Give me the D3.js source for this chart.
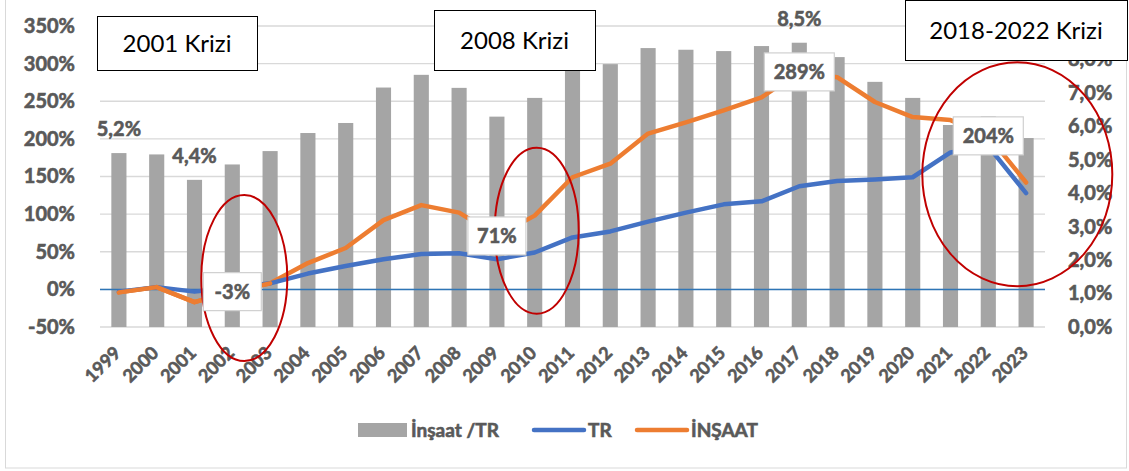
<!DOCTYPE html>
<html>
<head>
<meta charset="utf-8">
<script src="https://cdn.jsdelivr.net/npm/d3@7"></script>
<style>
  body { margin: 0; background: #fff; }
  svg { display: block; font-family: Lato, "Open Sans", sans-serif; }
  .heavy { font-weight: 700; fill: #595959; stroke: #595959; stroke-width: 0.6px; }
</style>
</head>
<body>
<svg id="chart" width="1129" height="471"></svg>
<script>
"use strict";

// Years on the x axis
const years = ["1999","2000","2001","2002","2003","2004","2005","2006","2007","2008","2009","2010",
  "2011","2012","2013","2014","2015","2016","2017","2018","2019","2020","2021","2022","2023"];

// İnşaat /TR share (right axis, %)
const share = [5.2, 5.16, 4.4, 4.86, 5.26, 5.8, 6.1, 7.16, 7.54, 7.15, 6.29, 6.85,
  7.66, 7.86, 8.34, 8.29, 8.25, 8.4, 8.5, 8.07, 7.33, 6.85, 6.04, 6.3, 5.65];

// Cumulative growth (left axis, %)
const tr = [-3, 3, -3, 2, 8, 21, 31, 40, 47, 48, 40, 49,
  69, 77, 90, 102, 113, 117, 137, 144, 146, 149, 182, 190, 128];
const insaat = [-4, 3, -17, -3, 8, 35, 55, 92, 112, 102, 71, 98,
  149, 167, 207, 222, 238, 255, 289, 282, 249, 229, 225, 204, 142];

const leftTicks = [-50, 0, 50, 100, 150, 200, 250, 300, 350];
const rightTicks = [0, 1, 2, 3, 4, 5, 6, 7, 8, 9];

// labelled points
const shareLabels = ["1999", "2001", "2017"];
const insaatLabels = ["2002", "2009", "2017", "2022"];

const crises = [
  {text: "2001 Krizi", x: 97, y: 16, w: 160, h: 54},
  {text: "2008 Krizi", x: 434, y: 10, w: 161, h: 60},
  {text: "2018-2022 Krizi", x: 905, y: 0, w: 222, h: 60}
];

const svg = d3.select("#chart");

// outer frame
svg.append("rect").attr("x", 5.5).attr("y", -1).attr("width", 1121).attr("height", 469)
  .attr("fill", "#fff").attr("stroke", "#d9d9d9");

const pLeft = 100, pRight = 1045, pTop = 26, pBottom = 327;

const x = d3.scaleBand().domain(years).range([pLeft, pRight]).paddingInner(0.6).paddingOuter(0.3);
const xc = d => x(d) + x.bandwidth() / 2;
const yL = d3.scaleLinear().domain([-50, 350]).range([pBottom, pTop]);
const yR = d3.scaleLinear().domain([0, 9]).range([pBottom, pTop]);

// gridlines
svg.append("g").selectAll("line").data(leftTicks).join("line")
  .attr("x1", pLeft).attr("x2", pRight)
  .attr("y1", d => yL(d)).attr("y2", d => yL(d))
  .attr("stroke", "#d9d9d9").attr("stroke-width", 1.3);

// left axis
const axL = svg.append("g").attr("transform", `translate(${pLeft - 22},0)`)
  .call(d3.axisLeft(yL).tickValues(leftTicks).tickSize(0).tickFormat(d => d + "%"));
axL.select(".domain").remove();
axL.selectAll("text").attr("class", "heavy").attr("font-size", 20)
  .attr("font-family", "Lato, sans-serif");

// right axis
const axR = svg.append("g").attr("transform", `translate(${pRight + 20},0)`)
  .call(d3.axisRight(yR).tickValues(rightTicks).tickSize(0)
    .tickFormat(d => d3.format(".1f")(d).replace(".", ",") + "%"));
axR.select(".domain").remove();
axR.selectAll("text").attr("class", "heavy").attr("font-size", 20)
  .attr("font-family", "Lato, sans-serif");

// bars
svg.append("g").selectAll("rect").data(years).join("rect")
  .attr("x", d => x(d)).attr("width", x.bandwidth())
  .attr("y", (d, i) => yR(share[i])).attr("height", (d, i) => yR(0) - yR(share[i]))
  .attr("fill", "#a5a5a5");

// zero line
svg.append("line").attr("x1", pLeft).attr("x2", pRight)
  .attr("y1", yL(0)).attr("y2", yL(0)).attr("stroke", "#2e75b6").attr("stroke-width", 1.5);

// x labels
svg.append("g").selectAll("text").data(years).join("text")
  .attr("transform", d => `translate(${xc(d) + 3},${pBottom + 27}) rotate(-45)`)
  .attr("text-anchor", "end").attr("class", "heavy").attr("font-size", 18)
  .text(d => d);

// lines
const line = vals => d3.line().x((d, i) => xc(years[i])).y(d => yL(d))(vals);
svg.append("path").attr("d", line(insaat)).attr("fill", "none")
  .attr("stroke", "#ed7d31").attr("stroke-width", 4.5).attr("stroke-linejoin", "round").attr("stroke-linecap", "round");
svg.append("path").attr("d", line(tr)).attr("fill", "none")
  .attr("stroke", "#4472c4").attr("stroke-width", 4.5).attr("stroke-linejoin", "round").attr("stroke-linecap", "round");
// orange again on top where it lies over blue early on
svg.append("path").attr("d", line(insaat.slice(0, 5))).attr("fill", "none")
  .attr("stroke", "#ed7d31").attr("stroke-width", 4.5).attr("stroke-linejoin", "round").attr("stroke-linecap", "round");

// bar value labels
svg.append("g").selectAll("text").data(shareLabels).join("text")
  .attr("x", d => xc(d)).attr("y", d => yR(share[years.indexOf(d)]) - 17)
  .attr("text-anchor", "middle").attr("class", "heavy").attr("font-size", 20)
  .text(d => d3.format(".1f")(share[years.indexOf(d)]).replace(".", ",") + "%");

// crisis ellipses
const ellipses = [
  {cx: xc("2002") + 12, cy: yL(15), rx: 43, ry: 83},
  {cx: xc("2010") + 2, cy: yL(78), rx: 42, ry: 83},
  {cx: xc("2022") + 29, cy: yL(153), rx: 95, ry: 112}
];
svg.append("g").selectAll("ellipse").data(ellipses).join("ellipse")
  .attr("cx", d => d.cx).attr("cy", d => d.cy).attr("rx", d => d.rx).attr("ry", d => d.ry)
  .attr("fill", "none").attr("stroke", "#c00000").attr("stroke-width", 2);

// İNŞAAT data labels
const lab = svg.append("g").selectAll("g").data(insaatLabels).join("g")
  .attr("transform", d => `translate(${xc(d)},${yL(insaat[years.indexOf(d)])})`);
lab.append("rect").attr("y", -19)
  .attr("x", d => insaat[years.indexOf(d)] >= 100 ? -35 : -29)
  .attr("width", d => insaat[years.indexOf(d)] >= 100 ? 70 : 58).attr("height", 38)
  .attr("fill", "#fff").attr("stroke", "#d0d0d0").attr("stroke-width", 1.2);
lab.append("text").attr("text-anchor", "middle").attr("dy", "0.36em")
  .attr("class", "heavy").attr("font-size", 20)
  .text(d => insaat[years.indexOf(d)] + "%");

// crisis title boxes
const cb = svg.append("g").selectAll("g").data(crises).join("g");
cb.append("rect").attr("x", d => d.x + 0.5).attr("y", d => d.y + 0.5)
  .attr("width", d => d.w).attr("height", d => d.h)
  .attr("fill", "#fff").attr("stroke", "#000").attr("stroke-width", 1);
cb.append("text").attr("x", d => d.x + d.w / 2).attr("y", d => d.y + d.h / 2)
  .attr("dy", "0.36em").attr("text-anchor", "middle").attr("font-size", 24).attr("fill", "#000")
  .text(d => d.text);

// legend
const legend = [
  {name: "İnşaat /TR", type: "bar", color: "#a5a5a5", x: 358},
  {name: "TR", type: "line", color: "#4472c4", x: 532},
  {name: "İNŞAAT", type: "line", color: "#ed7d31", x: 635}
];
const lg = svg.append("g").selectAll("g").data(legend).join("g")
  .attr("transform", d => `translate(${d.x},430)`);
lg.filter(d => d.type === "bar").append("rect")
  .attr("x", 0).attr("y", -7).attr("width", 49).attr("height", 14).attr("fill", d => d.color);
lg.filter(d => d.type === "line").append("line")
  .attr("x1", 2).attr("x2", 52).attr("stroke", d => d.color).attr("stroke-width", 4.5).attr("stroke-linecap", "round");
lg.append("text").attr("x", d => d.type === "bar" ? 53 : 56).attr("dy", "0.36em")
  .attr("class", "heavy").attr("font-size", 19).text(d => d.name);
</script>
</body>
</html>
